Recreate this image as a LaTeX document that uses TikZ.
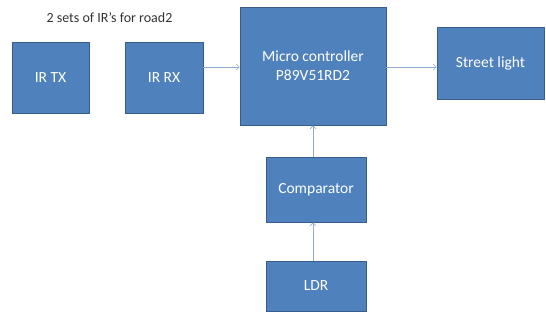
\documentclass[tikz,border=0pt]{standalone}
\usepackage{fontspec}
\setmainfont{Carlito}
\usetikzlibrary{arrows.meta}
\definecolor{boxfill}{HTML}{4F81BD}
\definecolor{boxline}{HTML}{385D8A}
\definecolor{arr}{HTML}{8EA9CF}
\tikzset{
  blk/.style={draw=boxline, line width=0.8pt, fill=boxfill, text=white, font=\fontsize{15.5}{19}\selectfont, align=center, inner sep=0pt},
  conn/.style={draw=arr, line width=0.6pt, -{Straight Barb[length=3pt,width=6pt]}}
}
\begin{document}
\begin{tikzpicture}[x=1pt,y=-1pt]
\useasboundingbox (0,0) rectangle (546,321);
\node[blk, minimum width=77pt, minimum height=71pt] (tx) at (50.5,77.5) {IR TX};
\node[blk, minimum width=78pt, minimum height=71pt] (rx) at (164,77.5) {IR RX};
\node[blk, minimum width=146pt, minimum height=118pt] (mc) at (313,66) {Micro controller\\P89V51RD2};
\node[blk, minimum width=107pt, minimum height=72pt] (sl) at (490.5,63) {Street light};
\node[blk, minimum width=100pt, minimum height=65pt] (cmp) at (316,189.5) {Comparator};
\node[blk, minimum width=100pt, minimum height=50pt] (ldr) at (316,286) {LDR};
\node[text=black!80, font=\fontsize{14}{16}\selectfont] (title) at (109.5,18) {2 sets of IR’s for road2};
\coordinate (a1) at (rx.east |- 0,67);
\coordinate (a2) at (mc.west |- 0,67);
\coordinate (a3) at (mc.east |- 0,67);
\coordinate (a4) at (sl.west |- 0,67);
\draw[conn] (a1) -- (a2);
\draw[conn] (a3) -- (a4);
\draw[conn] (cmp.north -| 313,0) -- (mc.south -| 313,0);
\draw[conn] (ldr.north -| 313,0) -- (cmp.south -| 313,0);
\end{tikzpicture}
\end{document}
